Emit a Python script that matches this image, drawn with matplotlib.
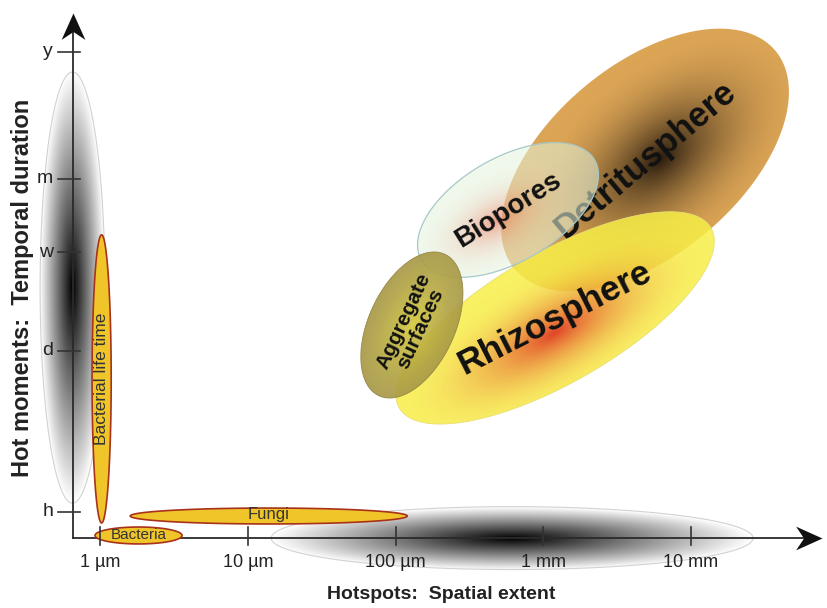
import numpy as np
import matplotlib.pyplot as plt
from matplotlib.patches import Polygon
from matplotlib.colors import to_rgb

plt.rcParams['font.family'] = ['Liberation Sans', 'DejaVu Sans']

# axis ticks: spatial extent in µm, temporal duration in hours
size_ticks_um = [1, 10, 100, 1000, 10000]
size_labels = ['1 µm', '10 µm', '100 µm', '1 mm', '10 mm']
time_ticks_h = [1, 24, 168, 720, 8760]
time_labels = ['h', 'd', 'w', 'm', 'y']

# ranges shown as axis-aligned ellipses (min, max)
range_names = ['spatial', 'temporal', 'Bacterial life time', 'Fungi', 'Bacteria']
range_x_um = [(14.4, 26300), (0.393, 1.08), (0.883, 1.19), (1.60, 120), (0.925, 3.59)]
range_y_h = [(0.321, 1.11), (1.19, 5890), (0.805, 237), (0.789, 1.08), (0.532, 0.743)]

# hotspot centres
spot_names = ['Detritusphere', 'Rhizosphere', 'Biopores', 'Aggregate\nsurfaces']
spot_x_um = [4885, 1202, 577, 129]
spot_y_h = [1038, 46, 387, 40]

fig = plt.figure(figsize=(8.28, 6.08), dpi=100)
ax = fig.add_axes([0, 0, 1, 1])
ax.set_xlim(-0.677, 4.927)
ax.set_ylim(-0.823, 4.387)
ax.set_autoscale_on(False)
ax.axis('off')

# screen ratio between one x unit and one y unit
p0 = ax.transData.transform((0, 0))
sx = ax.transData.transform((1, 0))[0] - p0[0]
sy = ax.transData.transform((0, 1))[1] - p0[1]
k = sx / sy


def outline(cx, cy, a, b, ang):
    t = np.linspace(0, 2 * np.pi, 240)
    th = np.radians(ang)
    u, v = a * np.cos(t), b * np.sin(t)
    x = cx + u * np.cos(th) - v * np.sin(th)
    y = cy + (u * np.sin(th) + v * np.cos(th)) * k
    return np.column_stack([x, y])


def shaded(cx, cy, a, b, ang, c_edge, c_mid, power, al_edge, al_mid, z,
           focus=(0, 0), edge=None, lw=0.8):
    pts = outline(cx, cy, a, b, ang)
    x0, x1 = pts[:, 0].min(), pts[:, 0].max()
    y0, y1 = pts[:, 1].min(), pts[:, 1].max()
    X, Y = np.meshgrid(np.linspace(x0, x1, 320), np.linspace(y0, y1, 320))
    th = np.radians(ang)
    du = X - cx
    dv = (Y - cy) / k
    u = du * np.cos(th) + dv * np.sin(th)
    v = -du * np.sin(th) + dv * np.cos(th)
    r = np.clip(np.hypot(u / a - focus[0], v / b - focus[1]), 0, 1)
    w = (1 - r) ** power
    ce, cm = np.array(to_rgb(c_edge)), np.array(to_rgb(c_mid))
    rgb = (1 - w)[..., None] * ce + w[..., None] * cm
    alpha = al_edge + (al_mid - al_edge) * w
    img = np.dstack([rgb, alpha])
    im = ax.imshow(img, extent=(x0, x1, y0, y1), origin='lower',
                   interpolation='bilinear', aspect='auto', zorder=z)
    clip = Polygon(pts, closed=True, transform=ax.transData,
                   facecolor='none', edgecolor='none')
    ax.add_patch(clip)
    im.set_clip_path(clip)
    if edge:
        ax.add_patch(Polygon(pts, closed=True, fill=False, edgecolor=edge,
                             lw=lw, zorder=z + 0.1))


def box(i):
    lx = np.log10(range_x_um[i])
    ly = np.log10(range_y_h[i])
    return (lx.mean(), ly.mean(), (lx[1] - lx[0]) / 2, (ly[1] - ly[0]) / 2 / k)


# grey ranges of hotspots / hot moments
for i in [0, 1]:
    cx, cy, a, b = box(i)
    shaded(cx, cy, a, b, 0, 'white', 'black', 1.0, 1, 1, 1, edge='#d2d2d2', lw=0.8)

# axes with notched arrow heads
X0, Y0 = -0.1827, -0.2228
x_end, y_end = 4.887, 4.276
ax.plot([X0, x_end - 0.05], [Y0, Y0], color='#2a2a2a', lw=1.3, zorder=2)
ax.plot([X0, X0], [Y0, y_end - 0.06], color='#2a2a2a', lw=1.3, zorder=2)
head_r = [(0, 0), (-1, 0.45), (-0.7, 0), (-1, -0.45), (0, 0)]
head_u = [(0, 0), (0.45, -1), (0, -0.7), (-0.45, -1), (0, 0)]
ax.plot(x_end, Y0, marker=head_r, markersize=38, color='#111111', mew=0, zorder=2)
ax.plot(X0, y_end, marker=head_u, markersize=38, color='#111111', mew=0, zorder=2)

# yellow ranges
for i in [2, 3, 4]:
    cx, cy, a, b = box(i)
    ax.add_patch(Polygon(outline(cx, cy, a, b, 0), closed=True,
                         facecolor='#f0c52a', edgecolor='#a8321a', lw=1.2, zorder=3))

cx, cy, a, b = box(2)
ax.text(cx, cy, range_names[2], rotation=90, ha='center', va='center',
        fontsize=12.5, color='#333333', zorder=3.5)
cx, cy, a, b = box(3)
ax.text(cx, cy + 0.01, range_names[3], ha='center', va='center',
        fontsize=12, color='#333333', zorder=3.5)
cx, cy, a, b = box(4)
ax.text(cx, cy, range_names[4], ha='center', va='center',
        fontsize=11, color='#333333', zorder=3.5)

# ticks and labels
for xt, lab in zip(size_ticks_um, size_labels):
    lx = np.log10(xt)
    ax.plot([lx, lx], [Y0 - 0.06, Y0 + 0.094], color='#333333', lw=1.2, zorder=4)
    ax.text(lx, -0.437, lab, ha='center', va='center', fontsize=13, color='#222222')
for yt, lab in zip(time_ticks_h, time_labels):
    ly = np.log10(yt)
    ax.plot([X0 - 0.1, X0 + 0.047], [ly, ly], color='#333333', lw=1.2, zorder=4)
    ax.text(-0.318, ly, lab, ha='right', va='center', fontsize=14, color='#222222')

ax.text(2.308, -0.711, 'Hotspots:  Spatial extent', ha='center', va='center',
        fontsize=14, fontweight='bold', color='#222222')
ax.text(-0.528, 1.924, 'Hot moments:  Temporal duration', rotation=90,
        ha='center', va='center', fontsize=17, fontweight='bold', color='#222222')

# hotspot ellipses: half length, half thickness (x units), angle
spot_geom = [(1.151, 0.643, 40), (1.218, 0.440, 30), (0.677, 0.352, 30), (0.528, 0.291, 65)]
sc = [(cx, cy) for cx, cy in zip(np.log10(spot_x_um), np.log10(spot_y_h))]

a, b, ang = spot_geom[0]
shaded(*sc[0], a, b, ang, '#dca556', '#2a1c0e', 1.9, 1, 1, 5, focus=(0.07, -0.1))
ax.text(*sc[0], spot_names[0], rotation=40, ha='center', va='center',
        fontsize=25, fontweight='bold', color='#111111', zorder=5.5)

a, b, ang = spot_geom[1]
shaded(*sc[1], a, b, ang, '#f8ef48', '#e03a1c', 2.0, 0.85, 0.95, 6,
       focus=(-0.05, -0.2), edge='#e8e070', lw=0.6)

a, b, ang = spot_geom[2]
shaded(*sc[2], a, b, ang, '#e4f5de', '#e8876a', 2.2, 0.55, 0.75, 7,
       focus=(-0.17, -0.07), edge='#a6c8c8', lw=0.9)
ax.text(*sc[2], spot_names[2], rotation=32, ha='center', va='center',
        fontsize=20, fontweight='bold', color='#111111', zorder=7.5)

ax.text(*sc[1], spot_names[1], rotation=27, ha='center', va='center',
        fontsize=25.5, fontweight='bold', color='#111111', zorder=8)

a, b, ang = spot_geom[3]
shaded(*sc[3], a, b, ang, '#a89a48', '#d6ca3c', 1.3, 0.92, 0.92, 9,
       edge='#958645', lw=0.6)
ax.text(*sc[3], spot_names[3], rotation=65, ha='center', va='center',
        fontsize=15, fontweight='bold', color='#111111', zorder=9.5,
        linespacing=0.95, multialignment='center')

fig.savefig('out.png', dpi=100)
